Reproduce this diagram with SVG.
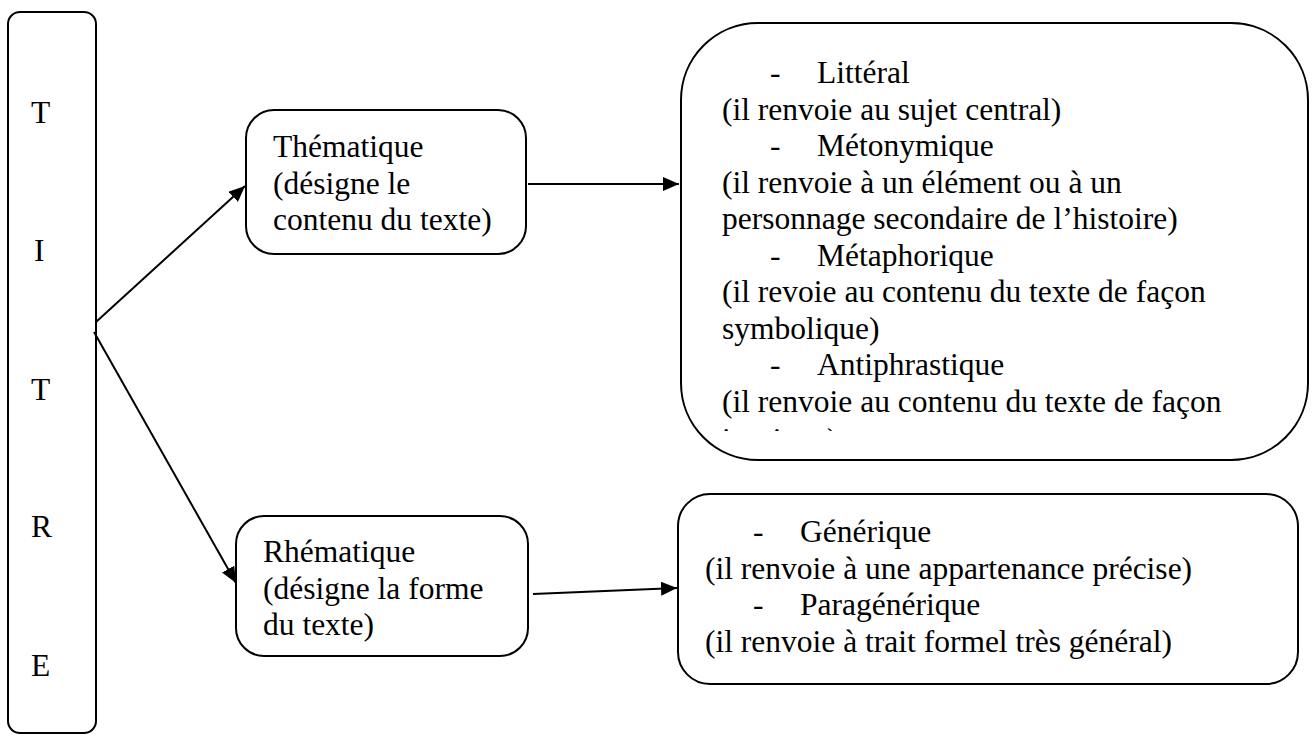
<svg xmlns="http://www.w3.org/2000/svg" width="1312" height="735" viewBox="0 0 1312 735">
<style>
.box{fill:#fff;stroke:#000;stroke-width:2}
.t{font-family:"Liberation Serif","Times New Roman",serif;font-size:31.5px;fill:#000}
.c{stroke:#000;stroke-width:2;fill:none}
</style>
<defs>
<marker id="ah" markerUnits="userSpaceOnUse" markerWidth="16" markerHeight="14" refX="16" refY="7" orient="auto">
<path d="M0,0 L16,7 L0,14 Z" fill="#000"/>
</marker>
<clipPath id="bigclip"><rect x="682" y="24" width="625" height="407"/></clipPath>
</defs>
<g id="titre">
<rect class="box" x="8" y="12" width="88" height="721" rx="12"/>
<text class="t" x="31" y="123">T</text>
<text class="t" x="34" y="261">I</text>
<text class="t" x="31" y="400">T</text>
<text class="t" x="31" y="537">R</text>
<text class="t" x="31" y="676">E</text>
</g>
<g id="thematique">
<rect class="box" x="246" y="110" width="280" height="144" rx="28"/>
<text class="t" x="273" y="157">Thématique</text>
<text class="t" x="273" y="193.5">(désigne le</text>
<text class="t" x="273" y="230">contenu du texte)</text>
</g>
<g id="rhematique">
<rect class="box" x="236" y="516" width="292" height="140" rx="28"/>
<text class="t" x="263" y="562">Rhématique</text>
<text class="t" x="263" y="598.5">(désigne la forme</text>
<text class="t" x="263" y="635">du texte)</text>
</g>
<g id="types-thematiques">
<rect class="box" x="681" y="23" width="627" height="437" rx="77"/>
<g clip-path="url(#bigclip)">
<text class="t" x="770" y="83">-</text><text class="t" x="817" y="83">Littéral</text>
<text class="t" x="722" y="119.5">(il renvoie au sujet central)</text>
<text class="t" x="770" y="156">-</text><text class="t" x="817" y="156">Métonymique</text>
<text class="t" x="722" y="192.5">(il renvoie à un élément ou à un</text>
<text class="t" x="722" y="229">personnage secondaire de l’histoire)</text>
<text class="t" x="770" y="265.5">-</text><text class="t" x="817" y="265.5">Métaphorique</text>
<text class="t" x="722" y="302">(il revoie au contenu du texte de façon</text>
<text class="t" x="722" y="338.5">symbolique)</text>
<text class="t" x="770" y="375">-</text><text class="t" x="817" y="375">Antiphrastique</text>
<text class="t" x="722" y="411.5">(il renvoie au contenu du texte de façon</text>
<text class="t" x="722" y="450">ironique)</text>
</g>
</g>
<g id="types-rhematiques">
<rect class="box" x="678" y="494" width="620" height="190" rx="32"/>
<text class="t" x="753" y="542">-</text><text class="t" x="800" y="542">Générique</text>
<text class="t" x="705" y="578.5">(il renvoie à une appartenance précise)</text>
<text class="t" x="753" y="615">-</text><text class="t" x="800" y="615">Paragénérique</text>
<text class="t" x="705" y="651.5">(il renvoie à trait formel très général)</text>
</g>
<g id="connectors">
<line class="c" x1="96" y1="322" x2="245" y2="186" marker-end="url(#ah)"/>
<line class="c" x1="94" y1="332" x2="236" y2="583" marker-end="url(#ah)"/>
<line class="c" x1="528" y1="184" x2="679" y2="184" marker-end="url(#ah)"/>
<line class="c" x1="533" y1="594" x2="677" y2="588" marker-end="url(#ah)"/>
</g>
</svg>
